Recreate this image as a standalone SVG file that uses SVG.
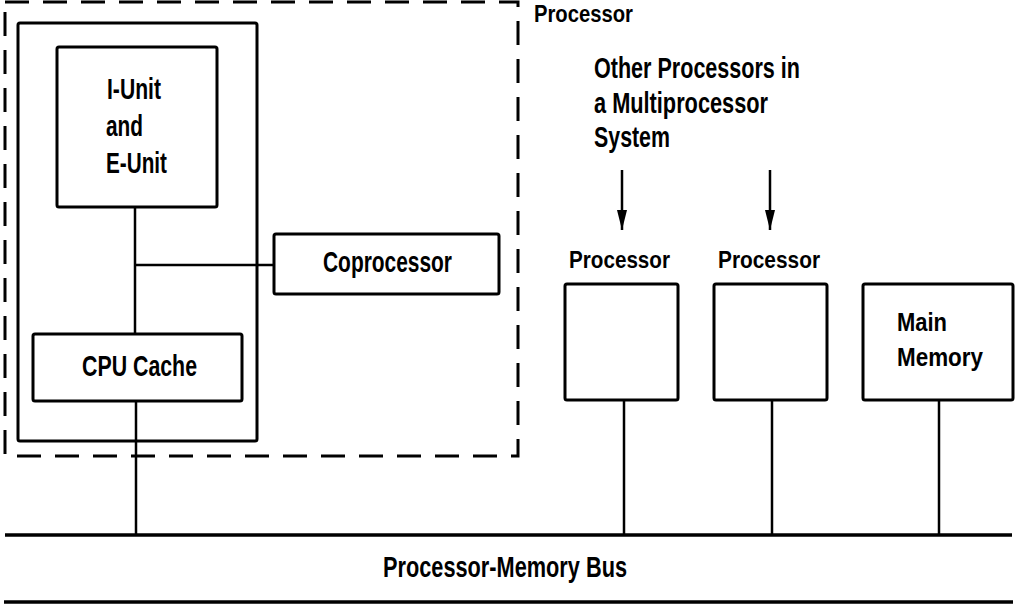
<svg xmlns="http://www.w3.org/2000/svg" width="1017" height="606" viewBox="0 0 1017 606">
<style>
.box{fill:none;stroke:#000;stroke-width:3}
.ln{fill:none;stroke:#000;stroke-width:2.5}
.bus{fill:none;stroke:#000;stroke-width:3.5}
.dash{fill:none;stroke:#000;stroke-width:3;stroke-dasharray:24 14}
text{font-family:"Liberation Sans",Arial,sans-serif;font-weight:bold;fill:#000}
.l{font-size:30px}
.m{font-size:29px}
.s{font-size:24px}
</style>
<defs>
<marker id="ah" markerWidth="20" markerHeight="10" refX="20" refY="5" orient="auto" markerUnits="userSpaceOnUse" viewBox="0 0 20 10">
<path d="M0,0 L20,5 L0,10 Z" fill="#000"/>
</marker>
</defs>
<rect width="1017" height="606" fill="#fff"/>
<g id="processor-boundary">
<rect class="dash" x="5" y="2" width="513" height="454"/>
<text class="s" x="534" y="22" textLength="99" lengthAdjust="spacingAndGlyphs">Processor</text>
</g>
<g id="inner-processor">
<rect class="box" x="18" y="23" width="239" height="418" rx="2"/>
</g>
<g id="iunit-eunit">
<rect class="box" x="57" y="47" width="160" height="160" rx="2"/>
<text class="l" x="107" y="99" textLength="54" lengthAdjust="spacingAndGlyphs">I-Unit</text>
<text class="l" x="106" y="136" textLength="37" lengthAdjust="spacingAndGlyphs">and</text>
<text class="l" x="106" y="173" textLength="61" lengthAdjust="spacingAndGlyphs">E-Unit</text>
</g>
<g id="coprocessor">
<rect class="box" x="274" y="234" width="225" height="60" rx="2"/>
<text class="l" x="323" y="272" textLength="129" lengthAdjust="spacingAndGlyphs">Coprocessor</text>
</g>
<g id="cpu-cache">
<rect class="box" x="33" y="334" width="209" height="67" rx="2"/>
<text class="l" x="82" y="376" textLength="115" lengthAdjust="spacingAndGlyphs">CPU Cache</text>
</g>
<g id="other-processors-note">
<text class="m" x="594" y="78" textLength="206" lengthAdjust="spacingAndGlyphs">Other Processors in</text>
<text class="m" x="594" y="113" textLength="174" lengthAdjust="spacingAndGlyphs">a Multiprocessor</text>
<text class="m" x="594" y="147" textLength="76" lengthAdjust="spacingAndGlyphs">System</text>
</g>
<g id="processor-2">
<text class="s" x="569" y="268" textLength="101" lengthAdjust="spacingAndGlyphs">Processor</text>
<rect class="box" x="565" y="284" width="113" height="116" rx="2"/>
</g>
<g id="processor-3">
<text class="s" x="718" y="268" textLength="102" lengthAdjust="spacingAndGlyphs">Processor</text>
<rect class="box" x="714" y="284" width="113" height="116" rx="2"/>
</g>
<g id="main-memory">
<rect class="box" x="863" y="284" width="150" height="116" rx="2"/>
<text class="s" x="897" y="331" textLength="50" lengthAdjust="spacingAndGlyphs" style="font-size:26px">Main</text>
<text class="s" x="897" y="366" textLength="86" lengthAdjust="spacingAndGlyphs" style="font-size:26px">Memory</text>
</g>
<g id="processor-memory-bus">
<line class="bus" x1="5" y1="535" x2="1012" y2="535"/>
<line class="bus" x1="4" y1="602" x2="1013" y2="602"/>
<text class="m" x="383" y="577" textLength="244" lengthAdjust="spacingAndGlyphs">Processor-Memory Bus</text>
</g>
<g id="connectors">
<line class="ln" x1="135" y1="207" x2="135" y2="334"/>
<line class="ln" x1="135" y1="265" x2="274" y2="265"/>
<line class="ln" x1="136" y1="401" x2="136" y2="535"/>
<line class="ln" x1="624" y1="400" x2="624" y2="535"/>
<line class="ln" x1="772" y1="400" x2="772" y2="535"/>
<line class="ln" x1="939" y1="400" x2="939" y2="535"/>
<line class="ln" x1="622" y1="170" x2="622" y2="230" marker-end="url(#ah)"/>
<line class="ln" x1="770" y1="170" x2="770" y2="230" marker-end="url(#ah)"/>
</g>
</svg>
